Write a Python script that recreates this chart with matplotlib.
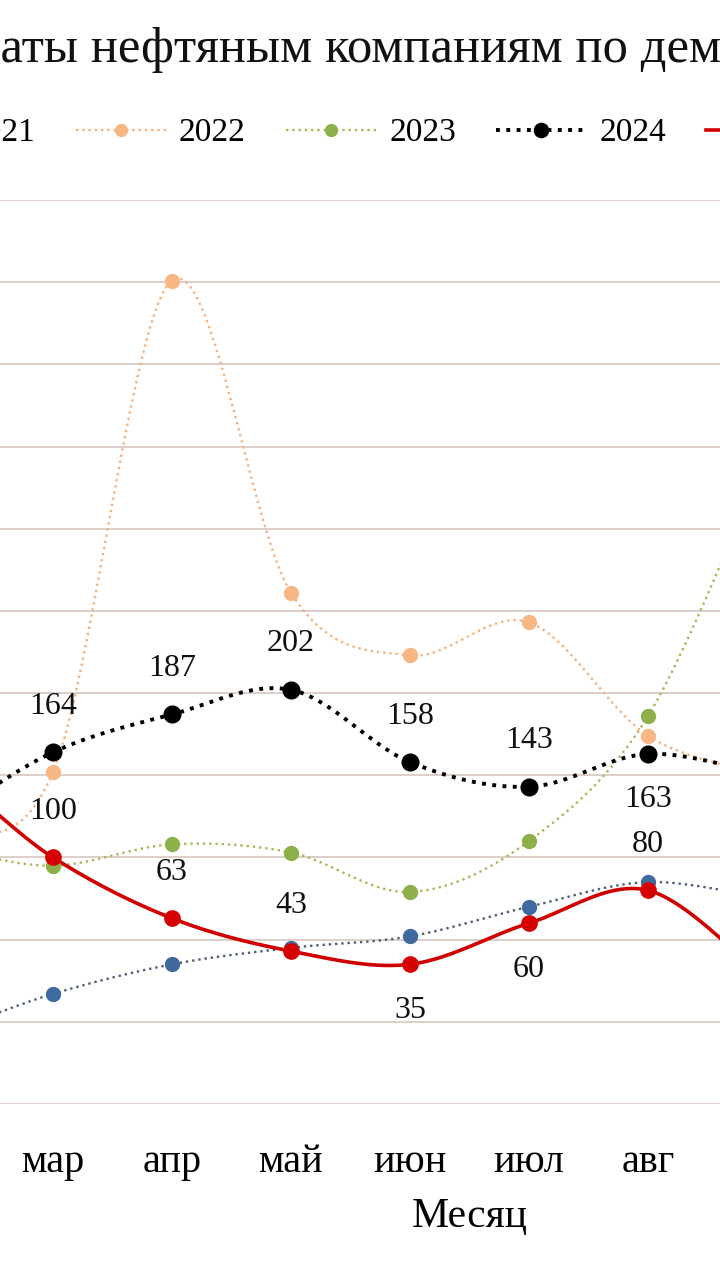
import numpy as np
import matplotlib.pyplot as plt
from matplotlib.lines import Line2D

plt.rcParams['font.family'] = ['Liberation Serif', 'DejaVu Serif']

months = ['янв', 'фев', 'мар', 'апр', 'май', 'июн', 'июл', 'авг', 'сен', 'окт', 'ноя', 'дек']
years = ['2021', '2022', '2023', '2024', '2025']

# values, bn rub (янв..сен)
v2021 = [-25, -8, 17, 35, 45, 52, 70, 85, 75]
v2022 = [70, 110, 152, 451, 261, 223, 243, 174, 150]
v2023 = [100, 105, 95, 108, 103, 79, 110, 186, 345]
v2024 = [80, 120, 164, 187, 202, 158, 143, 163, 150]
v2025 = [175, 155, 100, 63, 43, 35, 60, 80, 25]

title = 'Выплаты нефтяным компаниям по демпферу, млрд руб.'
title_cut = 'Выпл'


def smooth(y, n=40):
    # excel-like smoothed line (bezier through the points)
    x = np.arange(len(y), dtype=float)
    y = np.asarray(y, dtype=float)
    px = np.concatenate([[x[0]], x, [x[-1]]])
    py = np.concatenate([[y[0]], y, [y[-1]]])
    t = np.linspace(0, 1, n)
    xs, ys = [], []
    for i in range(1, len(px) - 2):
        for p, out in ((px, xs), (py, ys)):
            p0, p1, p2, p3 = p[i - 1:i + 3]
            c1 = p1 + (p2 - p0) / 6
            c2 = p2 - (p3 - p1) / 6
            out.append((1 - t)**3 * p1 + 3 * (1 - t)**2 * t * c1 + 3 * (1 - t) * t**2 * c2 + t**3 * p2)
    return np.concatenate(xs), np.concatenate(ys)


fig = plt.figure(figsize=(7.2, 12.8), dpi=100)
ax = fig.add_axes([-0.3396, 0.1375, 1.9833, 0.70625])

styles = [
    (v2021, '#3f6aa0', '#4f5e74', ':', 1.7, 10),
    (v2022, '#f8b682', '#f5b27f', ':', 1.7, 10),
    (v2023, '#8db04a', '#b1b457', ':', 1.7, 10),
    (v2024, '#000000', '#000000', ':', 2.8, 12),
    (v2025, '#d70000', '#d00000', '-', 2.6, 11),
]
handles = []
for vals, mc, lc, ls, lw, ms in styles:
    sx, sy = smooth(vals)
    ax.plot(sx, sy, color=lc, ls=ls, lw=lw, zorder=3)
    ax.plot(range(len(vals)), vals, ls='none', marker='o', ms=ms, color=mc, zorder=4)
    handles.append(Line2D([], [], color=lc, ls=ls, lw=lw, marker='o', ms=ms * 0.85, mfc=mc, mec=mc))

# data labels: 1 above the point, -1 below, 0 none
pos2024 = [0, 0, 1, 1, 1, 1, 1, -1, 0]
pos2025 = [0, 0, 1, 1, 1, -1, -1, 1, 0]
for vals, pos in ((v2024, pos2024), (v2025, pos2025)):
    for i, v in enumerate(vals):
        if pos[i] == 0:
            continue
        ax.annotate(str(v), (i, v), xytext=(0, 33 * pos[i]), textcoords='offset points',
                    ha='center', va='center', fontsize=23, color='#111111', zorder=5)

ax.set_xlim(-0.5, 11.5)
ax.set_ylim(-50, 500)
ax.set_yticks(np.arange(-50, 501, 50))
# only мар..авг fall inside the picture
ax.set_xticks(range(2, 8))
ax.set_xticklabels(months[2:8], fontsize=29)
ax.tick_params(axis='x', length=0, pad=29)
ax.tick_params(axis='y', length=0, labelleft=False)
ax.grid(axis='y', color='#dacbc5', lw=1.3)
for s in ax.spines.values():
    s.set_visible(False)
ax.set_xlabel('Месяц', fontsize=30, labelpad=12)

fig.legend(handles, years, loc='center', bbox_to_anchor=(0.515, 0.896), ncol=5,
           frameon=False, fontsize=24, handlelength=2.7, handletextpad=0.4, columnspacing=1.2)

# title is wider than the picture, shift it so the start is cut off
r = fig.canvas.get_renderer()
tmp = fig.text(0, 0, title_cut, fontsize=36.5)
w = tmp.get_window_extent(r).width / fig.bbox.width
tmp.remove()
fig.text(-w, 1 - 62 / 1280, title, fontsize=36.5, ha='left', va='baseline', color='#111111')

fig.savefig('out.png', dpi=100)
